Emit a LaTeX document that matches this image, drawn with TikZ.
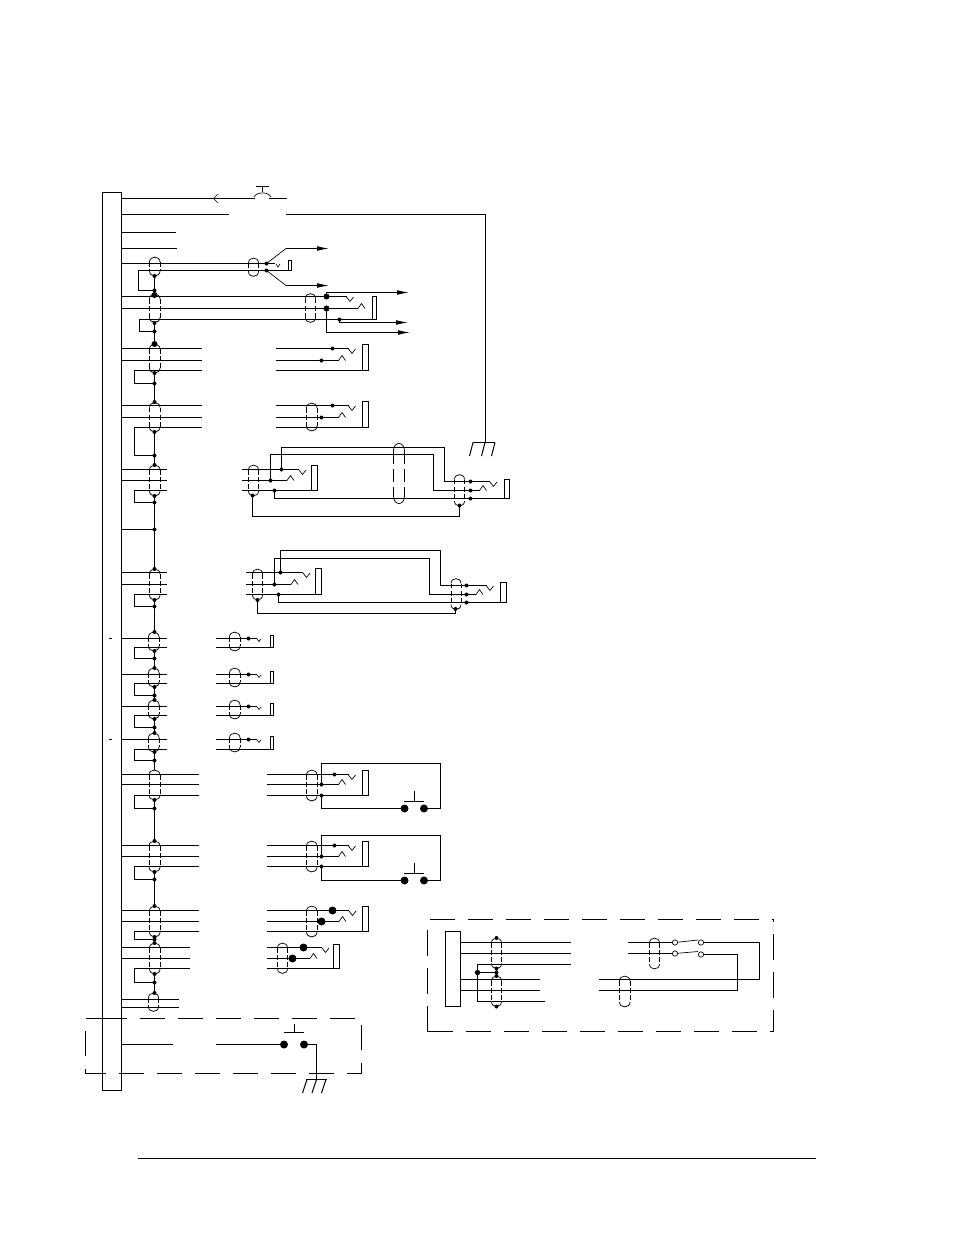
\documentclass[tikz,border=0pt]{standalone}
\usepackage{tikz}
\usetikzlibrary{arrows.meta}

\begin{document}
\begin{tikzpicture}[
		x=0.75pt, y=-0.75pt,
		wire/.style={draw, line width=0.75pt},
		thin wire/.style={draw, line width=0.5pt},
		out wire/.style={wire, -{Latex[length=9pt, width=3.6pt]}},
		shield side/.style={draw, line width=0.55pt, dash pattern=on 3.6pt off 1.8pt},
		long side/.style={draw, line width=0.55pt, dash pattern=on 10pt off 3.6pt},
		zone/.style={draw, line width=0.7pt, dash pattern=on 19pt off 9.5pt},
		dot/.style={circle, fill, inner sep=0pt, minimum size=3pt},
		big dot/.style={circle, fill, inner sep=0pt, minimum size=6pt},
		open dot/.style={circle, draw, fill=white, line width=0.5pt, inner sep=0pt, minimum size=4pt}
	]

	\useasboundingbox (0,0) rectangle (954,1235);

	% main bar and footer rule
	\draw[wire] (102.5,192.5) rectangle (121.5,1090.5);
	\draw[line width=0.6pt] (138,1158.5) -- (816,1158.5);
	\draw[wire] (109,638.5) -- (112,638.5);
	\draw[wire] (109,739.5) -- (112,739.5);

	% top lines
	\draw[wire] (121.5,198.5) -- (255,198.5);
	\draw[wire] (269,198.5) -- (287,198.5);
	\draw[thin wire] (218,194) -- (213.5,198.5) -- (218,203);
	\draw[wire] (255.5,186.5) -- (269,186.5);
	\draw[wire] (262.5,186.5) -- (262.5,192);
	\draw[thin wire] (254,197) .. controls (257,191.5) and (268,191.5) .. (271,197);
	\draw[wire] (121.5,214.5) -- (229,214.5);
	\draw[wire] (286,214.5) -- (485.5,214.5) -- (485.5,442.5);
	\draw[wire] (121.5,232.5) -- (176,232.5);
	\draw[wire] (121.5,248.5) -- (177,248.5);

	% ground at the end of the long line
	\draw[wire] (473,442.5) -- (495,442.5);
	\foreach \gx in {473,485,495}
		\draw[wire] (\gx,442.5) -- (\gx-3.5,456);

	% trunk down the shields
	\foreach \ya/\yb in {276/295,323/344,373/402,432/465,496/569,600/632,651/668,687/700,719/733,752/770,800/841,872/906,937/943,974/993}
		\draw[wire] (154.5,\ya) -- (154.5,\yb);
	\foreach \ya in {276,290.5,323,331.5,373,383.5,402,432,455.5,465,496,502.5,529.5,569,600,606.5,632,651,658.5,668,687,695.5,700,719,727.5,733,752,760.5,800,808.5,841,872,879.5,906,937,939.5,943,974,982.5,993}
		\node[dot] at (154.5,\ya) {};
	\foreach \ya in {295,344}
		\node[dot, minimum size=4.5pt] at (154.5,\ya) {};

	% first pair, with the two outputs
	\draw[wire] (121.5,263.5) -- (266.5,263.5) -- (275,263.5);
	\draw[wire] (138.5,290.5) -- (138.5,270.5) -- (288.5,270.5);
	\draw[wire] (138.5,290.5) -- (154.5,290.5);
	\draw[thin wire] (276,264) -- (278,267) -- (280,264);
	\draw[wire] (288.5,260.5) rectangle (291.5,270.5);
	\draw[line width=0.5pt] (266.5,263.5) -- (286,248.5);
	\draw[line width=0.5pt] (266.5,270.5) -- (286,285.5);
	\draw[out wire] (286,248.5) -- (329,248.5);
	\draw[out wire] (286,285.5) -- (329,285.5);
	\node[dot] at (266.5,263.5) {};
	\node[dot] at (266.5,270.5) {};

	% second group, three outputs
	\draw[wire] (121.5,296.5) -- (346.5,296.5);
	\draw[wire] (121.5,308.5) -- (358,308.5);
	\draw[wire] (139.5,331.5) -- (139.5,319.5) -- (372.5,319.5);
	\draw[wire] (139.5,331.5) -- (154.5,331.5);
	\draw[wire] (372.5,296.5) rectangle (376.5,319.5);
	\draw[out wire] (326.5,296.5) -- (326.5,292.5) -- (409,292.5);
	\draw[out wire] (326.5,308.5) -- (326.5,332.5) -- (410,332.5);
	\draw[out wire] (339.5,319.5) -- (339.5,322.5) -- (408,322.5);
	\node[big dot, minimum size=4.5pt] at (326.5,296.5) {};
	\node[big dot, minimum size=4.5pt] at (326.5,308.5) {};
	\node[dot] at (339.5,319.5) {};

	% groups of three lines with a gap
	\foreach \ya/\yb/\yc/\yloop/\xend/\xstart in {348.5/360.5/370.5/383.5/202/275.5,405.5/417.5/427.5/455.5/202/275.5,774.5/784.5/795.5/808.5/199/266.5,845.5/856.5/866.5/879.5/199/266.5,910.5/921.5/931.5/939.5/199/266.5}{
		\draw[wire] (121.5,\ya) -- (\xend,\ya);
		\draw[wire] (121.5,\yb) -- (\xend,\yb);
		\draw[wire] (134.5,\yloop) -- (134.5,\yc) -- (\xend,\yc);
		\draw[wire] (134.5,\yloop) -- (154.5,\yloop);
		\draw[wire] (\xstart,\ya) -- (348.5,\ya);
		\draw[wire] (\xstart,\yb) -- (338.5,\yb);
		\draw[wire] (\xstart,\yc) -- (362.5,\yc);
		\draw[wire] (362.5,\ya-4) rectangle (368.5,\yc);
	}
	\foreach \dx/\dy in {332.5/348.5,321.5/360.5,332.5/405.5,321.5/417.5,334.5/774.5,334.5/845.5}
		\node[dot] at (\dx,\dy) {};
	\foreach \dx/\dy in {332.5/910.5,321.5/921.5,303.5/947.5,292.5/958.5}
		\node[big dot] at (\dx,\dy) {};

	% fourth of the three-line groups, shorter
	\draw[wire] (121.5,947.5) -- (190,947.5);
	\draw[wire] (121.5,958.5) -- (190,958.5);
	\draw[wire] (134.5,982.5) -- (134.5,968.5) -- (190,968.5);
	\draw[wire] (134.5,982.5) -- (154.5,982.5);
	\draw[wire] (266.5,947.5) -- (322,947.5);
	\draw[wire] (266.5,958.5) -- (310,958.5);
	\draw[wire] (266.5,968.5) -- (333.5,968.5);
	\draw[wire] (333.5,944.5) rectangle (339.5,968.5);

	% the two bridged jacks
	\foreach \ya/\yb/\yc/\yloop/\xs/\xe in {469.5/480.5/490.5/502.5/242/299,572.5/584.5/594.5/606.5/246/303}{
		\draw[wire] (121.5,\ya) -- (167,\ya);
		\draw[wire] (121.5,\yb) -- (167,\yb);
		\draw[wire] (134.5,\yloop) -- (134.5,\yc) -- (167,\yc);
		\draw[wire] (134.5,\yloop) -- (154.5,\yloop);
		\draw[wire] (\xs,\ya) -- (\xe,\ya);
		\draw[wire] (\xs,\yb) -- (\xe-12,\yb);
		\draw[wire] (\xs,\yc) -- (\xe+12.5,\yc);
		\draw[wire] (\xe+12.5,\ya-4) rectangle (\xe+18.5,\yc);
	}
	\draw[wire] (121.5,529.5) -- (154.5,529.5);

	\draw[wire] (281.5,469.5) -- (281.5,447.5) -- (444.5,447.5) -- (444.5,481.5) -- (490,481.5);
	\draw[wire] (270.5,480.5) -- (270.5,454.5) -- (433.5,454.5) -- (433.5,490.5) -- (479.5,490.5);
	\draw[wire] (274.5,490.5) -- (274.5,498.5) -- (504.5,498.5);
	\draw[wire] (504.5,479.5) rectangle (509.5,498.5);
	\draw[wire] (252.5,495.5) -- (252.5,516.5) -- (459.5,516.5) -- (459.5,505.5);
	\foreach \dx/\dy in {281.5/469.5,270.5/480.5,274.5/490.5,252.5/495.5,459.5/505.5,470.5/481.5,470.5/490.5,470.5/498.5}
		\node[dot] at (\dx,\dy) {};

	\draw[wire] (280.5,572.5) -- (280.5,550.5) -- (440.5,550.5) -- (440.5,585.5) -- (486.5,585.5);
	\draw[wire] (274.5,584.5) -- (274.5,558.5) -- (429.5,558.5) -- (429.5,594.5) -- (476,594.5);
	\draw[wire] (278.5,594.5) -- (278.5,602.5) -- (500.5,602.5);
	\draw[wire] (500.5,582.5) rectangle (506.5,602.5);
	\draw[wire] (257.5,600) -- (257.5,613.5) -- (455.5,613.5) -- (455.5,609);
	\foreach \dx/\dy in {280.5/572.5,274.5/584.5,278.5/594.5,257.5/600,455.5/609,466.5/585.5,466.5/594.5,466.5/602.5}
		\node[dot] at (\dx,\dy) {};

	% the four small pairs
	\foreach \ya/\yb/\yloop in {638.5/647.5/658.5,674.5/683.5/695.5,706.5/715.5/727.5,739.5/749.5/760.5}{
		\draw[wire] (121.5,\ya) -- (167,\ya);
		\draw[wire] (134.5,\yloop) -- (134.5,\yb) -- (167,\yb);
		\draw[wire] (134.5,\yloop) -- (154.5,\yloop);
		\draw[wire] (216,\ya) -- (257,\ya);
		\draw[wire] (216,\yb) -- (270.5,\yb);
		\draw[wire] (270.5,\ya-3) rectangle (273.5,\yb);
		\draw[thin wire] (257,\ya+0.3) -- (259,\ya+3) -- (261,\ya+0.3);
		\node[dot] at (248.5,\ya) {};
	}

	% contact springs
	\foreach \cx/\cy in {346.5/296.5,348.5/348.5,348.5/405.5,299/469.5,490/481.5,303/572.5,486.5/585.5,348.5/774.5,348.5/845.5,349/910.5,322/947.5}
		\draw[thin wire] (\cx,\cy+0.5) -- (\cx+3.5,\cy+5) -- (\cx+7,\cy+0.5);
	\foreach \cx/\cy in {358/308.5,338.5/360.5,338.5/417.5,287/480.5,479.5/490.5,291/584.5,476/594.5,338.5/784.5,338.5/856.5,339/921.5,310/958.5}
		\draw[thin wire] (\cx,\cy) -- (\cx+3.5,\cy-5) -- (\cx+7,\cy);

	% the two jacks with push buttons
	\foreach \ya/\yb/\ytop/\ybot in {784.5/795.5/763.5/808.5,856.5/866.5/835.5/880.5}{
		\draw[wire] (321.5,\ya) -- (321.5,\ytop) -- (440.5,\ytop) -- (440.5,\ybot) -- (424,\ybot);
		\draw[wire] (321.5,\yb) -- (321.5,\ybot) -- (404.5,\ybot);
		\draw[wire] (404,\ybot-7) -- (423.5,\ybot-7);
		\draw[wire] (414.5,\ybot-7) -- (414.5,\ybot-18);
		\node[dot] at (321.5,\ya) {};
		\node[dot] at (321.5,\yb) {};
		\node[big dot] at (404.5,\ybot) {};
		\node[big dot] at (424,\ybot) {};
	}

	% last pair and dashed zone with push button
	\draw[wire] (121.5,999.5) -- (179,999.5);
	\draw[wire] (121.5,1007.5) -- (179,1007.5);
	\draw[zone] (111,1018.5) -- (85.5,1018.5) -- (85.5,1073.5) -- (361.5,1073.5) -- (361.5,1018.5) -- (111,1018.5);
	\draw[wire] (121.5,1044.5) -- (173,1044.5);
	\draw[wire] (216,1044.5) -- (284,1044.5);
	\draw[wire] (304,1044.5) -- (316.5,1044.5) -- (316.5,1079.5);
	\draw[wire] (284,1032.5) -- (304,1032.5);
	\draw[wire] (294.5,1032.5) -- (294.5,1024);
	\node[big dot] at (284,1044.5) {};
	\node[big dot] at (304,1044.5) {};
	\draw[wire] (306,1079.5) -- (326.5,1079.5);
	\foreach \gx in {307,316.5,326}
		\draw[wire] (\gx,1079.5) -- (\gx-4.5,1093);

	% dashed inset, two halves so that the corners close
	\draw[zone] (427.5,1031.5) -- (427.5,919.5) -- (773.5,919.5);
	\draw[zone] (427.5,1031.5) -- (773.5,1031.5) -- (773.5,919.5);
	\draw[wire] (445.5,931.5) rectangle (460.5,1006.5);
	\draw[wire] (460.5,942.5) -- (571,942.5);
	\draw[wire] (460.5,953.5) -- (571,953.5);
	\draw[wire] (460.5,979.5) -- (540,979.5);
	\draw[wire] (460.5,990.5) -- (540,990.5);
	\draw[wire] (571,964.5) -- (477.5,964.5) -- (477.5,1001.5) -- (544.5,1001.5);
	\draw[wire] (477.5,972.5) -- (496.5,972.5);
	\draw[wire] (496.5,968.5) -- (496.5,976);
	\foreach \dy in {938,968.5,976,1006.5}
		\node[dot] at (496.5,\dy) {};
	\node[dot] at (496.5,972.5) {};
	\node[dot, minimum size=4pt] at (477.5,972.5) {};

	\draw[wire] (627.5,942.5) -- (672.5,942.5);
	\draw[wire] (627.5,953.5) -- (672.5,953.5);
	\draw[wire] (703,942.5) -- (759.5,942.5) -- (759.5,979.5) -- (598.5,979.5);
	\draw[wire] (703,954.5) -- (737.5,954.5) -- (737.5,990.5) -- (598.5,990.5);
	\node[open dot] (swa) at (675,942.5) {};
	\node[open dot] (swb) at (675,953.5) {};
	\node[open dot] (swc) at (701,942.5) {};
	\node[open dot] (swd) at (701,954.5) {};
	\draw[thin wire] (swa) -- (698,940);
	\draw[thin wire] (swb) -- (698,951.5);

	% shields, dashed sides and closed ends
	\foreach \xa/\xb/\ya/\yb in {149.5/160/257/276,248.5/258.5/258/276.5,149.5/160/294/322.5,305.5/315.5/293.5/322.5,149.5/160/344/373,149.5/160/402.5/432,306.5/317/403/431,149.5/160/465/496,248.5/258.5/465/496,454.5/464.5/474.5/506,149.5/160/569/600,252.5/262.5/569/600,451/461/578.5/609.5,148.5/159/632/651,229.5/240/632/651,148.5/159/668/687,229.5/240/668/687,148.5/159/700/719,229.5/240/700/719,148.5/159/733/752,229.5/240/733/752,149/160/770/800,306.5/317/770/801,149/160/841/872,306.5/317/841/872,149.5/160/906/937,306.5/317/906/937,149.5/160/943/974,277.5/287.5/943/973.5,148.5/158.5/993/1011.5,491.5/501.5/938/968.5,491.5/501.5/976/1006.5,649.5/659.5/938/969,619.5/630/976/1007}{
		\draw[line width=0.55pt] (\xa,\ya+5) .. controls (\xa,\ya-1.5) and (\xb,\ya-1.5) .. (\xb,\ya+5);
		\draw[line width=0.55pt] (\xa,\yb-5) .. controls (\xa,\yb+1.5) and (\xb,\yb+1.5) .. (\xb,\yb-5);
		\draw[shield side] (\xa,\ya+5) -- (\xa,\yb-5);
		\draw[shield side] (\xb,\ya+5) -- (\xb,\yb-5);
	}
	\draw[line width=0.55pt] (393.5,451) .. controls (393.5,441) and (404.5,441) .. (404.5,451);
	\draw[line width=0.55pt] (393.5,496) .. controls (393.5,506) and (404.5,506) .. (404.5,496);
	\draw[long side] (393.5,451) -- (393.5,496);
	\draw[long side] (404.5,451) -- (404.5,496);

\end{tikzpicture}
\end{document}
